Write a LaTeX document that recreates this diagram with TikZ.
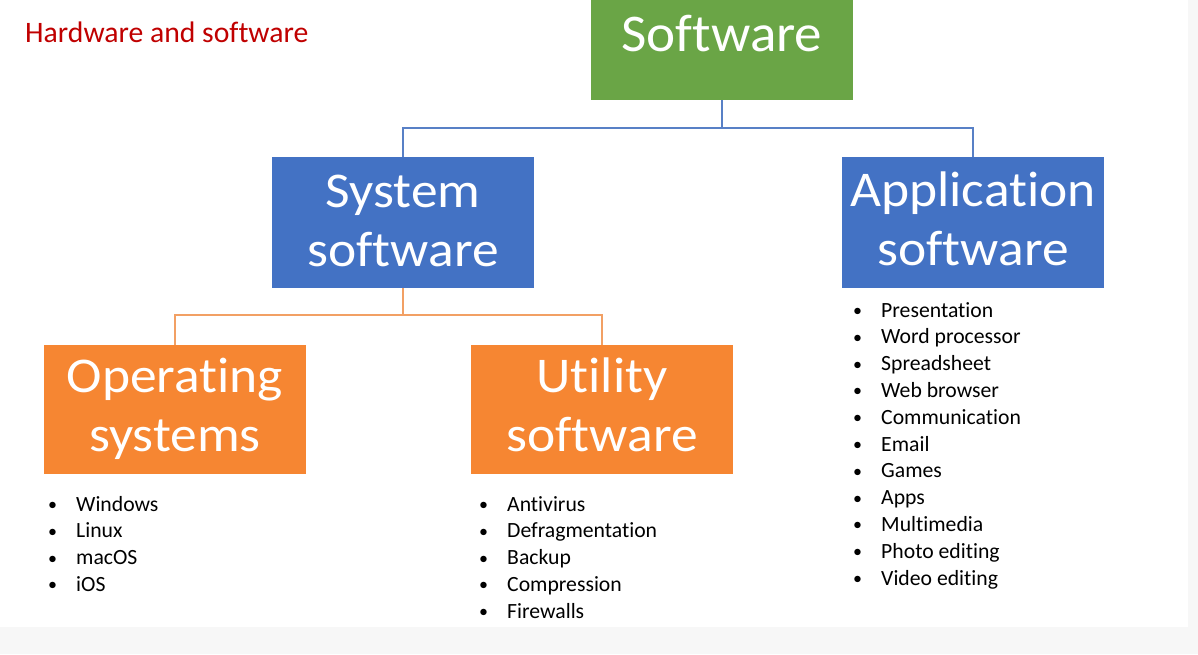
\documentclass[tikz,border=0pt]{standalone}
\usepackage{fontspec}
\setmainfont[Ligatures=NoCommon]{Carlito}
\newfontfamily\boxfont[Ligatures=NoCommon,FakeStretch=1.07]{Carlito}
\newfontfamily\topfont[Ligatures=NoCommon,FakeStretch=1.04]{Carlito}
\definecolor{bggray}{RGB}{247,247,247}
\definecolor{titlered}{RGB}{192,0,0}
\definecolor{swgreen}{RGB}{106,165,70}
\definecolor{swblue}{RGB}{67,114,196}
\definecolor{sworange}{RGB}{246,134,50}
\definecolor{lineblue}{RGB}{88,128,198}
\definecolor{lineorange}{RGB}{242,160,100}
\tikzset{
  box/.style={rectangle, inner sep=0pt, text=white, minimum width=262pt},
  bluelink/.style={draw=lineblue, line width=1.5pt},
  orangelink/.style={draw=lineorange, line width=1.5pt},
  listnode/.style={anchor=base west, inner sep=0pt, text=black},
}
% two-line box text: first baseline raised #1 above the node centre
\newcommand{\twolines}[3]{\raisebox{#1}[0pt][0pt]{\boxfont\fontsize{50}{59}\selectfont\renewcommand{\arraystretch}{1}\begin{tabular}[t]{@{}c@{}}#2\\#3\end{tabular}}}
\newcommand{\bul}{{\fontsize{18}{20}\selectfont\raisebox{0.6pt}{•}}}
\newcommand{\swlist}[1]{\fontsize{21.7}{26.8}\selectfont\renewcommand{\arraystretch}{1}\begin{tabular}[t]{@{}p{28pt}@{}l@{}}#1\end{tabular}}
\begin{document}
\begin{tikzpicture}[x=1pt,y=-1pt]
  \fill[bggray] (0,0) rectangle (1198,654);
  \fill[white] (0,0) rectangle (1188,627);
  \useasboundingbox (0,0) rectangle (1198,654);

  \node[anchor=base west, inner sep=0pt, text=titlered, font=\fontsize{29.7}{35}\selectfont] (title) at (25,42) {Hardware and software};

  \node[box, fill=swgreen, minimum height=100pt] (sw) at (722,50) {\raisebox{-1.7pt}[0pt][0pt]{\topfont\fontsize{53}{60}\selectfont Software}};
  \node[box, fill=swblue, minimum height=131pt] (sys) at (403,222.5) {\twolines{15.5pt}{System}{software}};
  \node[box, fill=swblue, minimum height=131pt] (app) at (973,222.5) {\twolines{16.5pt}{Application}{software}};
  \node[box, fill=sworange, minimum height=129pt] (os) at (175,409.5) {\twolines{17.5pt}{Operating}{systems}};
  \node[box, fill=sworange, minimum height=129pt] (util) at (602,409.5) {\twolines{17.5pt}{Utility}{software}};

  \coordinate (bj) at (722,128);
  \coordinate (oj) at (403,315);
  \draw[bluelink] (sw.south) -- (bj) -| (sys.north);
  \draw[bluelink] (bj) -| (app.north);
  \draw[orangelink] (sys.south) -- (oj) -| (os.north);
  \draw[orangelink] (oj) -| (util.north);

  \node[listnode] (oslist) at (48,511) {\swlist{\bul & Windows\\ \bul & Linux\\ \bul & macOS\\ \bul & iOS}};
  \node[listnode] (utillist) at (479,511) {\swlist{\bul & Antivirus\\ \bul & Defragmentation\\ \bul & Backup\\ \bul & Compression\\ \bul & Firewalls}};
  \node[listnode] (applist) at (853,317) {\swlist{\bul & Presentation\\ \bul & Word processor\\ \bul & Spreadsheet\\ \bul & Web browser\\ \bul & Communication\\ \bul & Email\\ \bul & Games\\ \bul & Apps\\ \bul & Multimedia\\ \bul & Photo editing\\ \bul & Video editing}};
\end{tikzpicture}
\end{document}
